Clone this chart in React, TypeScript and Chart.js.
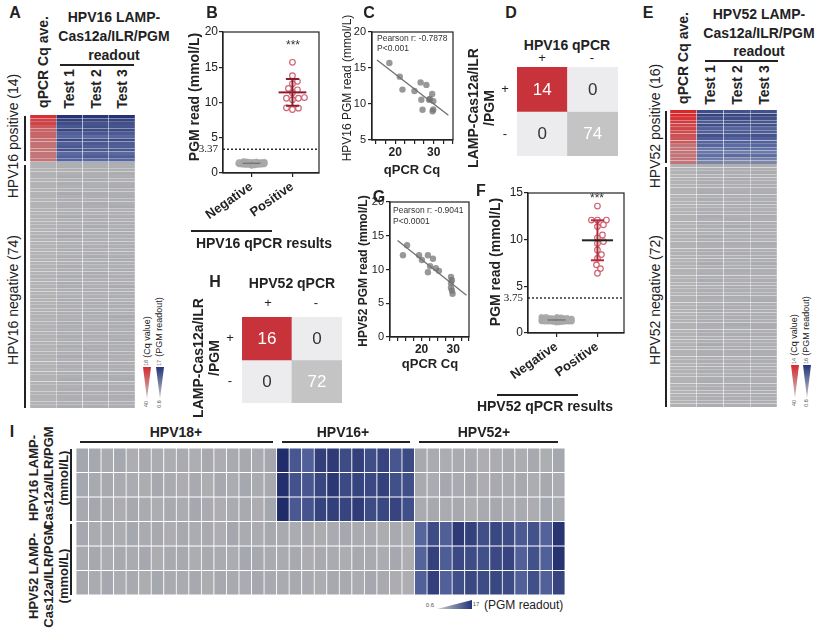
import React, { useEffect, useRef } from "react";
import { Chart, registerables } from "chart.js";

Chart.register(...registerables);

const FONT = '"Liberation Sans", Arial, Helvetica, sans-serif';
const SERIF = '"Liberation Serif", "DejaVu Serif", serif';
Chart.defaults.font.family = FONT;
Chart.defaults.color = "#222";

// ================= DATA =================
const heatmapColumns = ["qPCR Cq ave.", "Test 1", "Test 2", "Test 3"];
const cqUndetermined = 40;

// HPV16 positives (sorted by Cq)
const hpv16PosCq = [18.5, 21.2, 21.9, 25.0, 26.6, 26.8, 27.1, 28.1, 28.8, 29.0, 29.6, 29.7, 29.9, 29.9];
const hpv16PosRead = [15.7, 13.8, 12.0, 11.8, 13.0, 10.6, 9.2, 12.65, 10.6, 10.7, 11.4, 9.0, 10.4, 9.25];
const hpv16PosTest1 = [15.9, 14.2, 12.4, 11.2, 13.5, 10.1, 9.4, 12.9, 10.2, 11.1, 11.9, 8.8, 10.0, 9.5];
const hpv16PosTest2 = [15.4, 13.5, 11.6, 12.3, 12.7, 11.0, 8.9, 12.3, 10.9, 10.4, 11.0, 9.3, 10.7, 9.0];
const hpv16PosTest3 = [15.8, 13.7, 12.0, 11.9, 12.8, 10.7, 9.3, 12.75, 10.7, 10.6, 11.3, 8.9, 10.5, 9.25];
// HPV16 negatives (74)
const hpv16NegTest1 = [
  1.2, 1.5, 1.1, 0.9, 1.8, 1.3, 1.6, 1.0, 1.4, 2.0,
  1.2, 1.7, 1.1, 1.3, 0.9, 1.5, 1.9, 1.2, 1.4, 1.0,
  1.6, 1.3, 2.1, 1.1, 1.4, 1.2, 1.8, 0.9, 1.5, 1.3,
  1.0, 1.7, 1.4, 1.2, 1.6, 1.1, 1.9, 1.3, 1.5, 1.0,
  1.2, 1.8, 1.4, 1.1, 1.6, 1.3, 0.9, 1.5, 2.0, 1.2,
  1.4, 1.1, 1.7, 1.3, 1.0, 1.6, 1.2, 1.5, 1.8, 1.1,
  1.4, 1.3, 0.9, 1.6, 1.2, 1.9, 1.5, 1.0, 1.3, 1.7,
  1.1, 1.4, 1.2, 1.6,
];
const hpv16NegTest2 = [
  1.4, 1.2, 1.6, 1.1, 1.3, 1.9, 1.0, 1.5, 1.2, 1.7,
  1.3, 1.1, 1.8, 1.4, 1.2, 1.0, 1.6, 1.3, 1.5, 2.0,
  1.1, 1.4, 1.2, 1.7, 0.9, 1.5, 1.3, 1.1, 1.8, 1.2,
  1.6, 1.0, 1.4, 1.9, 1.3, 1.5, 1.1, 1.2, 1.7, 1.4,
  1.0, 1.3, 1.6, 1.2, 1.5, 1.8, 1.1, 1.4, 1.3, 0.9,
  1.7, 1.2, 1.5, 1.0, 1.4, 1.3, 1.9, 1.1, 1.6, 1.2,
  1.3, 1.5, 1.1, 1.8, 1.4, 1.0, 1.2, 1.6, 1.5, 1.3,
  1.2, 1.7, 1.0, 1.4,
];
const hpv16NegTest3 = [
  1.3, 1.1, 1.4, 1.7, 1.2, 1.0, 1.5, 1.8, 1.3, 1.1,
  1.6, 1.4, 1.2, 1.9, 1.0, 1.3, 1.5, 1.1, 1.7, 1.2,
  1.4, 1.8, 1.0, 1.3, 1.6, 1.1, 1.2, 1.5, 1.4, 2.0,
  1.2, 1.3, 1.7, 1.0, 1.5, 1.4, 1.1, 1.8, 1.2, 1.6,
  1.3, 1.0, 1.4, 1.5, 1.2, 1.1, 1.9, 1.3, 1.6, 1.4,
  1.2, 1.5, 1.0, 1.8, 1.3, 1.1, 1.4, 1.7, 1.2, 1.5,
  1.6, 1.1, 1.3, 1.2, 1.4, 1.8, 1.0, 1.5, 1.1, 1.3,
  1.7, 1.2, 1.4, 1.1,
];

// HPV52 positives (sorted by Cq)
const hpv52PosCq = [14.1, 15.4, 19.2, 20.1, 22.0, 22.0, 22.7, 23.6, 24.5, 25.5, 29.3, 29.3, 29.3, 29.6, 29.6, 29.8];
const hpv52PosRead = [12.1, 13.6, 12.1, 11.4, 12.1, 9.6, 10.5, 11.6, 10.2, 9.8, 8.9, 8.0, 7.3, 8.4, 6.9, 6.4];
const hpv52PosTest1 = [12.5, 13.9, 11.8, 11.0, 12.4, 9.9, 10.2, 11.9, 10.5, 9.5, 9.2, 7.7, 7.6, 8.1, 7.2, 6.6];
const hpv52PosTest2 = [11.8, 13.2, 12.4, 11.7, 11.9, 9.3, 10.8, 11.2, 9.9, 10.1, 8.6, 8.3, 7.0, 8.7, 6.6, 6.2];
const hpv52PosTest3 = [12.0, 13.7, 12.1, 11.5, 12.0, 9.6, 10.5, 11.7, 10.2, 9.8, 8.9, 8.0, 7.3, 8.4, 6.9, 6.4];
// HPV52 negatives (72)
const hpv52NegTest1 = [
  1.5, 1.2, 1.8, 1.0, 1.4, 1.6, 1.1, 1.3, 2.0, 1.2,
  1.7, 1.4, 0.9, 1.5, 1.3, 1.8, 1.1, 1.6, 1.2, 1.4,
  1.0, 1.9, 1.3, 1.5, 1.2, 1.7, 1.4, 1.1, 1.6, 2.2,
  1.3, 1.0, 1.5, 1.2, 1.8, 1.4, 1.1, 1.7, 1.3, 1.6,
  0.8, 1.5, 1.2, 1.9, 1.4, 1.0, 1.6, 1.3, 1.1, 1.8,
  1.5, 1.2, 1.4, 2.1, 1.0, 1.3, 1.7, 1.2, 1.5, 1.1,
  1.6, 1.4, 0.9, 1.3, 1.8, 1.2, 1.5, 1.0, 1.7, 1.4,
  1.3, 1.6,
];
const hpv52NegTest2 = [
  1.3, 1.6, 1.1, 1.4, 1.9, 1.2, 1.5, 1.0, 1.7, 1.3,
  1.2, 1.5, 1.8, 1.1, 1.4, 1.0, 1.6, 1.3, 2.0, 1.2,
  1.5, 1.1, 1.4, 1.7, 0.9, 1.3, 1.6, 1.2, 1.8, 1.0,
  1.4, 1.7, 1.2, 1.5, 1.1, 1.3, 1.9, 1.4, 1.0, 1.6,
  1.2, 1.8, 1.5, 1.1, 1.3, 1.7, 1.4, 2.1, 1.2, 1.0,
  1.6, 1.3, 1.5, 1.1, 1.8, 1.4, 1.2, 0.8, 1.5, 1.7,
  1.3, 1.0, 1.6, 1.4, 1.2, 1.9, 1.1, 1.5, 1.3, 1.6,
  1.4, 1.2,
];
const hpv52NegTest3 = [
  1.4, 1.3, 1.7, 1.2, 1.0, 1.5, 1.8, 1.1, 1.4, 1.6,
  1.2, 1.9, 1.3, 1.0, 1.5, 1.4, 1.2, 1.7, 1.1, 1.6,
  1.3, 1.5, 1.0, 1.8, 1.4, 1.2, 1.1, 1.6, 1.3, 1.9,
  1.5, 1.2, 1.4, 1.0, 1.7, 1.3, 1.6, 1.1, 1.5, 1.2,
  1.8, 1.4, 1.0, 1.3, 1.6, 1.2, 1.5, 1.7, 2.0, 1.1,
  1.3, 1.4, 1.6, 1.2, 0.9, 1.5, 1.1, 1.8, 1.3, 1.4,
  1.2, 1.7, 1.5, 1.0, 1.4, 1.3, 1.6, 1.2, 1.8, 1.1,
  1.5, 1.3,
];

// Confusion matrices: rows = LAMP-Cas12a/ILR/PGM (+,-), cols = qPCR (+,-)
const matrixLabels = ["+", "-"];
const hpv16Matrix = [[14, 0], [0, 74]];
const hpv52Matrix = [[16, 0], [0, 72]];

// Strip plots
const stripGroups = ["Negative", "Positive"];
const hpv16Cutoff = 3.37;
const hpv16StripYTicks = [0, 3.37, 5, 10, 15, 20];
const hpv52Cutoff = 3.75;
const hpv52StripYTicks = [0, 3.75, 5, 10, 15];

// Correlation plots
const hpv16CorrXTicks = [15, 17.5, 20, 22.5, 25, 27.5, 30, 32.5, 35];
const hpv52CorrXTicks = [10, 12.5, 15, 17.5, 20, 22.5, 25, 27.5, 30, 32.5, 35];
const corrXLabelled = [20, 30];
const hpv16CorrYTicks = [5, 10, 15, 20];
const hpv52CorrYTicks = [0, 5, 10, 15, 20];

// Panel I cross-reactivity (columns: 16 HPV18+, 11 HPV16+, 12 HPV52+)
const crossGroups = ["HPV18+", "HPV16+", "HPV52+"];
const crossGroupSizes = [16, 11, 12];
const crossHpv16Test1 = [
  2.8, 2.5, 1.9, 2.6, 1.5, 2.2, 1.8, 1.6, 2.0, 1.3, 2.4, 1.7, 2.1, 2.3, 1.9, 2.7,
  16.6, 11.2, 10.0, 14.3, 14.8, 12.6, 14.2, 12.4, 13.6, 11.4, 12.8,
  2.4, 2.0, 1.7, 1.9, 2.2, 1.5, 1.8, 2.1, 1.6, 2.3, 1.4, 2.6,
];
const crossHpv16Test2 = [
  2.6, 2.2, 2.4, 2.0, 1.8, 1.6, 2.5, 1.9, 1.7, 2.1, 1.5, 2.3, 1.8, 2.6, 2.0, 2.4,
  16.2, 11.8, 11.3, 13.4, 15.2, 13.0, 13.8, 13.1, 14.1, 12.1, 12.3,
  2.2, 1.8, 2.5, 2.0, 2.7, 1.7, 2.1, 1.9, 2.4, 1.6, 2.3, 1.8,
];
const crossHpv16Test3 = [
  2.4, 2.7, 2.1, 1.7, 2.3, 1.9, 1.6, 2.2, 1.8, 2.5, 2.0, 1.5, 1.9, 2.2, 1.7, 2.8,
  16.8, 11.0, 11.6, 13.8, 14.3, 13.6, 14.7, 12.6, 13.2, 13.6, 12.2,
  2.0, 2.3, 1.9, 2.4, 1.6, 2.2, 2.5, 1.8, 2.0, 1.7, 2.6, 1.9,
];
const crossHpv52Test1 = [
  2.5, 1.9, 2.2, 1.6, 2.6, 2.0, 2.3, 1.7, 2.4, 1.8, 2.1, 1.5, 2.7, 2.0, 1.8, 2.3,
  2.2, 1.8, 2.4, 1.7, 2.0, 2.5, 1.9, 2.2, 1.6, 2.1, 1.4,
  9.4, 12.6, 10.2, 15.0, 14.1, 12.2, 13.2, 12.6, 10.8, 11.9, 9.8, 15.6,
];
const crossHpv52Test2 = [
  2.2, 2.6, 1.8, 2.3, 1.9, 2.5, 1.7, 2.1, 2.4, 1.6, 2.2, 2.0, 1.8, 2.6, 2.3, 1.9,
  2.0, 2.4, 1.7, 2.2, 1.9, 1.6, 2.3, 2.1, 1.8, 2.5, 1.5,
  9.6, 14.0, 10.4, 13.1, 12.6, 12.1, 13.1, 13.6, 10.0, 12.0, 10.1, 15.8,
];
const crossHpv52Test3 = [
  2.4, 2.0, 2.5, 1.8, 2.2, 1.6, 2.6, 1.9, 2.0, 2.3, 1.7, 2.4, 2.1, 1.8, 2.5, 2.2,
  1.9, 2.3, 2.0, 1.6, 2.4, 2.1, 1.8, 2.5, 2.2, 1.7, 1.5,
  10.0, 14.2, 10.1, 12.2, 13.2, 12.6, 13.2, 12.6, 10.1, 12.1, 10.0, 13.6,
];

// ================= STYLE / HELPERS =================
const GREY = [178, 178, 180];
const PGM_LOWMID = [152, 155, 168];
const PGM_MID = [96, 112, 166];
const PGM_HIGH = [30, 42, 104];
const CQ_RED = [214, 40, 44];
const clamp = (t: number) => Math.max(0, Math.min(1, t));
function mixRGB(a: number[], b: number[], t: number) {
  const c = a.map((v, i) => Math.round(v + (b[i] - v) * t));
  return `rgb(${c[0]},${c[1]},${c[2]})`;
}
function pgmColor(v: number) {
  if (v <= 5) return mixRGB(GREY, PGM_LOWMID, clamp((v - 0.6) / (5 - 0.6)));
  if (v <= 8) return mixRGB(PGM_LOWMID, PGM_MID, clamp((v - 5) / 3));
  return mixRGB(PGM_MID, PGM_HIGH, clamp((v - 8) / (17 - 8)));
}
function cqColor(cq: number) {
  return mixRGB(GREY, CQ_RED, clamp((40 - cq) / (40 - 17)));
}
function mean(a: number[]) {
  return a.reduce((s, v) => s + v, 0) / a.length;
}
function sd(a: number[]) {
  const m = mean(a);
  return Math.sqrt(a.reduce((s, v) => s + (v - m) * (v - m), 0) / (a.length - 1));
}
function linreg(xs: number[], ys: number[]) {
  const mx = mean(xs), my = mean(ys);
  let sxy = 0, sxx = 0;
  xs.forEach((x, i) => { sxy += (x - mx) * (ys[i] - my); sxx += (x - mx) * (x - mx); });
  const slope = sxy / sxx;
  return { slope, icpt: my - slope * mx };
}
// bounded beeswarm placement (layout only): spreads points horizontally inside +/- halfW pixels
function swarm(values: number[], center: number, pxX: number, pxY: number, minDist: number, step: number, halfW: number) {
  const placed: { px: number; py: number }[] = [];
  const out: { x: number; y: number }[] = new Array(values.length);
  const order = values.map((_, i) => i).sort((a, b) => values[a] - values[b]);
  const nSteps = Math.floor(halfW / step);
  for (const i of order) {
    const py = values[i] * pxY;
    let best = 0, bestD = -1, chosen: number | null = null;
    for (let k = 0; k <= nSteps * 2; k++) {
      const cand = k === 0 ? 0 : (k % 2 ? 1 : -1) * Math.ceil(k / 2) * step;
      let d = Infinity;
      for (const p of placed) d = Math.min(d, Math.hypot(p.px - cand, p.py - py));
      if (d >= minDist) { chosen = cand; break; }
      if (d > bestD) { bestD = d; best = cand; }
    }
    const px = chosen === null ? best : chosen;
    placed.push({ px, py });
    out[i] = { x: center + px / pxX, y: values[i] };
  }
  return out;
}

const boxPlugin = {
  id: "boxBorder",
  afterDraw(chart: any) {
    const { ctx, chartArea } = chart;
    ctx.save();
    ctx.strokeStyle = "#222";
    ctx.lineWidth = 1.2;
    ctx.strokeRect(chartArea.left, chartArea.top, chartArea.right - chartArea.left, chartArea.bottom - chartArea.top);
    ctx.restore();
  },
};

const baseOpts = {
  animation: false,
  responsive: false,
  events: [],
  plugins: { legend: { display: false }, tooltip: { enabled: false } },
};

function heatmapConfig(labels: string[], rows: string[][], bwX: number, bwY: number, bc: string) {
  return {
    type: "bar",
    data: {
      labels,
      datasets: rows.map((r) => ({
        data: r.map(() => 1),
        backgroundColor: r,
        borderColor: bc,
        borderWidth: { left: bwX, right: bwX, top: bwY, bottom: bwY },
        borderSkipped: false,
        barPercentage: 1,
        categoryPercentage: 1,
        stack: "s",
      })),
    },
    options: {
      ...baseOpts,
      layout: { padding: 0 },
      scales: {
        x: { stacked: true, display: false },
        y: { stacked: true, display: false, reverse: true, min: 0, max: rows.length },
      },
    },
  };
}

function matrixConfig(counts: number[][]) {
  const colors = [["#c8323a", "#ececef"], ["#ececef", "#c4c4c4"]];
  const txt = [["#ffffff", "#333333"], ["#333333", "#ffffff"]];
  return {
    type: "bar",
    data: {
      labels: matrixLabels,
      datasets: counts.map((row, ri) => ({
        data: row.map(() => 1),
        backgroundColor: colors[ri],
        borderWidth: 0,
        barPercentage: 1,
        categoryPercentage: 1,
        stack: "m",
      })),
    },
    options: {
      ...baseOpts,
      layout: { padding: 0 },
      scales: {
        x: { stacked: true, display: false },
        y: { stacked: true, display: false, reverse: true, min: 0, max: 2 },
      },
    },
    plugins: [
      {
        id: "counts",
        afterDatasetsDraw(chart: any) {
          const ctx = chart.ctx;
          ctx.save();
          ctx.font = `17px ${FONT}`;
          ctx.textAlign = "center";
          ctx.textBaseline = "middle";
          chart.data.datasets.forEach((_: any, ri: number) => {
            chart.getDatasetMeta(ri).data.forEach((bar: any, ci: number) => {
              ctx.fillStyle = txt[ri][ci];
              ctx.fillText(String(counts[ri][ci]), bar.x, (bar.y + bar.base) / 2 + 1);
            });
          });
          ctx.restore();
        },
      },
    ],
  };
}

const axisGrid = { display: true, drawOnChartArea: false, drawTicks: true, tickLength: 4, color: "#222", lineWidth: 1.2 };
const axisBorder = { display: true, color: "#222", width: 1.2 };

function seg(points: { x: number; y: number }[], color: string, width: number, dash: number[] = []) {
  return { data: points, showLine: true, borderColor: color, borderWidth: width, pointRadius: 0, borderDash: dash, fill: false, borderCapStyle: "butt" };
}

const STRIP_XMIN = 0.3;
const STRIP_XMAX = 2.65;
function stripConfig(p: any) {
  const pxX = p.plotW / (STRIP_XMAX - STRIP_XMIN);
  const pxY = p.plotH / p.yMax;
  const negPts = swarm(p.neg, 1, pxX, pxY, 2.6, 0.5, p.negHalfW);
  const posPts = swarm(p.pos, 2, pxX, pxY, 5.4, 1, 14);
  const nm = mean(p.neg), ns = sd(p.neg), pm = mean(p.pos), ps = sd(p.pos);
  const cap = 0.16;
  return {
    type: "scatter",
    data: {
      datasets: [
        seg([{ x: 2 - p.mw, y: pm }, { x: 2 + p.mw, y: pm }], p.meanColor, 2),
        seg([{ x: 2, y: pm - ps }, { x: 2, y: pm + ps }], p.sdColor, 2),
        seg([{ x: 2 - cap, y: pm + ps }, { x: 2 + cap, y: pm + ps }], p.sdColor, 2),
        seg([{ x: 2 - cap, y: pm - ps }, { x: 2 + cap, y: pm - ps }], p.sdColor, 2),
        seg([{ x: 1 - 0.22, y: nm }, { x: 1 + 0.22, y: nm }], "#777", 1.5),
        seg([{ x: 1, y: nm - ns }, { x: 1, y: nm + ns }], "#888", 1.2),
        { data: posPts, pointRadius: 2.8, pointBackgroundColor: "rgba(255,255,255,0)", pointBorderColor: "#cf6270", pointBorderWidth: 1.2 },
        { data: negPts, pointRadius: 2.8, pointBackgroundColor: "#ababab", pointBorderColor: "#a3a3a3", pointBorderWidth: 0.5 },
        seg([{ x: STRIP_XMIN, y: p.thr }, { x: STRIP_XMAX, y: p.thr }], "#111", 1.3, [2, 2]),
      ],
    },
    options: {
      ...baseOpts,
      layout: { padding: p.pad },
      scales: {
        x: {
          type: "linear",
          min: STRIP_XMIN,
          max: STRIP_XMAX,
          afterBuildTicks: (s: any) => { s.ticks = [{ value: 1 }, { value: 2 }]; },
          afterFit: (s: any) => { s.height = p.xAxisH; },
          ticks: {
            autoSkip: false,
            minRotation: 35,
            maxRotation: 35,
            padding: 2,
            font: { size: 13, weight: "bold" },
            callback: (v: number) => (v === 1 ? stripGroups[0] : v === 2 ? stripGroups[1] : ""),
          },
          grid: axisGrid,
          border: axisBorder,
        },
        y: {
          min: 0,
          max: p.yMax,
          afterBuildTicks: (s: any) => { s.ticks = p.yTicks.map((v: number) => ({ value: v })); },
          afterFit: (s: any) => { s.width = p.yAxisW; },
          ticks: {
            autoSkip: false,
            padding: 1,
            font: (ctx: any) => (ctx.tick && ctx.tick.value === p.thr ? { size: 11, family: SERIF } : { size: 12, family: FONT }),
            callback: (v: number) => String(v),
          },
          grid: { ...axisGrid, color: (ctx: any) => (ctx.tick && ctx.tick.value === p.thr ? "rgba(0,0,0,0)" : "#222") },
          border: axisBorder,
        },
      },
    },
    plugins: [boxPlugin],
  };
}

function corrConfig(p: any) {
  const pts = p.xs.map((x: number, i: number) => ({ x, y: p.ys[i] }));
  const { slope, icpt } = linreg(p.xs, p.ys);
  return {
    type: "scatter",
    data: {
      datasets: [
        seg([{ x: p.l0, y: icpt + slope * p.l0 }, { x: p.l1, y: icpt + slope * p.l1 }], "#707070", 1.3),
        { data: pts, pointRadius: 3.2, pointBackgroundColor: "rgba(112,112,112,0.72)", pointBorderWidth: 0 },
      ],
    },
    options: {
      ...baseOpts,
      layout: { padding: p.pad },
      scales: {
        x: {
          type: "linear",
          min: p.xMin,
          max: p.xMax,
          afterBuildTicks: (s: any) => { s.ticks = p.xTicks.map((v: number) => ({ value: v })); },
          afterFit: (s: any) => { s.height = p.xAxisH; },
          ticks: {
            autoSkip: false,
            maxRotation: 0,
            padding: 1,
            font: { size: 12, weight: "bold" },
            callback: (v: number) => (corrXLabelled.includes(v) ? String(v) : ""),
          },
          grid: axisGrid,
          border: axisBorder,
        },
        y: {
          min: p.yMin,
          max: p.yMax,
          afterBuildTicks: (s: any) => { s.ticks = p.yTicks.map((v: number) => ({ value: v })); },
          afterFit: (s: any) => { s.width = p.yAxisW; },
          ticks: { autoSkip: false, padding: 2, font: { size: 11 }, callback: (v: number) => String(v) },
          grid: axisGrid,
          border: axisBorder,
        },
      },
    },
    plugins: [boxPlugin],
  };
}

// ================= BUILD TABLES =================
const hpv16Rows = [
  ...hpv16PosCq.map((cq, i) => [cqColor(cq), pgmColor(hpv16PosTest1[i]), pgmColor(hpv16PosTest2[i]), pgmColor(hpv16PosTest3[i])]),
  ...hpv16NegTest1.map((v, i) => [cqColor(cqUndetermined), pgmColor(v), pgmColor(hpv16NegTest2[i]), pgmColor(hpv16NegTest3[i])]),
];
const hpv52Rows = [
  ...hpv52PosCq.map((cq, i) => [cqColor(cq), pgmColor(hpv52PosTest1[i]), pgmColor(hpv52PosTest2[i]), pgmColor(hpv52PosTest3[i])]),
  ...hpv52NegTest1.map((v, i) => [cqColor(cqUndetermined), pgmColor(v), pgmColor(hpv52NegTest2[i]), pgmColor(hpv52NegTest3[i])]),
];
const hpv16NegRead = hpv16NegTest1.map((v, i) => (v + hpv16NegTest2[i] + hpv16NegTest3[i]) / 3);
const hpv52NegRead = hpv52NegTest1.map((v, i) => (v + hpv52NegTest2[i] + hpv52NegTest3[i]) / 3);
const crossLabels = crossGroups.flatMap((g, gi) => Array.from({ length: crossGroupSizes[gi] }, (_, k) => `${g} #${k + 1}`));
const crossRows = [crossHpv16Test1, crossHpv16Test2, crossHpv16Test3, crossHpv52Test1, crossHpv52Test2, crossHpv52Test3].map((r) => r.map(pgmColor));

// ================= COMPONENTS =================
function ChartCanvas({ x, y, w, h, make }: any) {
  const ref = useRef<HTMLCanvasElement>(null);
  useEffect(() => {
    const chart = new Chart(ref.current as HTMLCanvasElement, make());
    return () => chart.destroy();
  }, []);
  return <canvas ref={ref} width={w} height={h} style={{ position: "absolute", left: x, top: y, width: w, height: h }} />;
}

function Txt({ x, y, s = 14, b = false, r = false, a = "c", c = "#222", lh, ff, children }: any) {
  const style: any = {
    position: "absolute",
    left: x,
    top: y,
    fontSize: s,
    fontWeight: b ? 700 : 400,
    color: c,
    whiteSpace: "nowrap",
    lineHeight: lh ? `${lh}px` : 1.05,
    fontFamily: ff || FONT,
    textAlign: "center",
    transform: a === "l" ? "translate(0,-50%)" : `translate(-50%,-50%)${r ? " rotate(-90deg)" : ""}`,
  };
  return <div style={style}>{children}</div>;
}

function Line({ x, y, w, h, c = "#222" }: any) {
  return <div style={{ position: "absolute", left: x, top: y, width: w, height: h, background: c }} />;
}

function Tri({ x, y, w, h, top, bottom, horiz }: any) {
  return (
    <div
      style={{
        position: "absolute",
        left: x,
        top: y,
        width: w,
        height: h,
        clipPath: horiz ? "polygon(0 100%, 100% 0, 100% 100%)" : "polygon(0 0, 100% 0, 50% 100%)",
        background: horiz ? `linear-gradient(to right, ${bottom}, ${top})` : `linear-gradient(to bottom, ${top}, ${bottom})`,
      }}
    />
  );
}

export default function App() {
  return (
    <div style={{ position: "absolute", left: 0, top: 0, width: 823, height: 632, background: "#fff", overflow: "hidden", fontFamily: FONT }}>
      {/* ---------- charts ---------- */}
      <ChartCanvas x={30} y={115} w={105} h={293} make={() => heatmapConfig(heatmapColumns, hpv16Rows, 0.5, 0.35, "rgba(255,255,255,0.55)")} />
      <ChartCanvas x={670} y={110} w={107} h={297} make={() => heatmapConfig(heatmapColumns, hpv52Rows, 0.5, 0.35, "rgba(255,255,255,0.55)")} />
      <ChartCanvas x={76} y={448} w={489} h={147} make={() => heatmapConfig(crossLabels, crossRows, 0.75, 0.75, "#ffffff")} />
      <ChartCanvas x={517} y={67} w={101} h={89} make={() => matrixConfig(hpv16Matrix)} />
      <ChartCanvas x={242} y={317} w={100} h={86} make={() => matrixConfig(hpv52Matrix)} />
      <ChartCanvas
        x={180} y={20} w={145} h={215}
        make={() =>
          stripConfig({
            neg: hpv16NegRead, pos: hpv16PosRead, thr: hpv16Cutoff, yMax: 20, yTicks: hpv16StripYTicks,
            plotW: 96, plotH: 141, pad: { left: 3, top: 12, right: 6, bottom: 12 }, yAxisW: 40, xAxisH: 50,
            meanColor: "#8b1c2c", sdColor: "#8b1c2c", mw: 0.34, negHalfW: 13,
          })
        }
      />
      <ChartCanvas
        x={490} y={181} w={140} h={214}
        make={() =>
          stripConfig({
            neg: hpv52NegRead, pos: hpv52PosRead, thr: hpv52Cutoff, yMax: 15, yTicks: hpv52StripYTicks,
            plotW: 96, plotH: 140, pad: { left: 2, top: 12, right: 6, bottom: 12 }, yAxisW: 36, xAxisH: 50,
            meanColor: "#222", sdColor: "#b32a3a", mw: 0.38, negHalfW: 15,
          })
        }
      />
      <ChartCanvas
        x={346} y={20} w={115} h={144}
        make={() =>
          corrConfig({
            xs: hpv16PosCq, ys: hpv16PosRead, xMin: 14, xMax: 35, yMin: 5, yMax: 20,
            xTicks: hpv16CorrXTicks, yTicks: hpv16CorrYTicks, l0: 15.3, l1: 33.8,
            pad: { left: 2, top: 12, right: 8, bottom: 4 }, yAxisW: 24, xAxisH: 20,
          })
        }
      />
      <ChartCanvas
        x={364} y={190} w={113} h={171}
        make={() =>
          corrConfig({
            xs: hpv52PosCq, ys: hpv52PosRead, xMin: 10, xMax: 35, yMin: 0, yMax: 20,
            xTicks: hpv52CorrXTicks, yTicks: hpv52CorrYTicks, l0: 12.4, l1: 34.2,
            pad: { left: 2, top: 12, right: 8, bottom: 4 }, yAxisW: 24, xAxisH: 20,
          })
        }
      />

      {/* ---------- panel A ---------- */}
      <Txt x={15} y={13} s={16} b>A</Txt>
      <Txt x={114} y={36} s={14} b lh={19}>HPV16 LAMP-<br />Cas12a/ILR/PGM<br />readout</Txt>
      <Line x={60} y={64} w={74} h={1.6} />
      <Txt x={43} y={62} s={14} b r>qPCR Cq ave.</Txt>
      <Txt x={69} y={89} s={14} b r>Test 1</Txt>
      <Txt x={96} y={89} s={14} b r>Test 2</Txt>
      <Txt x={122} y={89} s={14} b r>Test 3</Txt>
      <Line x={24} y={116} w={1.6} h={45} />
      <Line x={24} y={165} w={1.6} h={243} />
      <Txt x={13} y={136} s={14} r>HPV16 positive (14)</Txt>
      <Txt x={13} y={300} s={14} r>HPV16 negative (74)</Txt>
      <Txt x={148} y={337} s={9} r>(Cq value)</Txt>
      <Txt x={160} y={327} s={9} r>(PGM readout)</Txt>
      <Txt x={147} y={363} s={5.5} r c="#555">18</Txt>
      <Txt x={160} y={363} s={5.5} r c="#555">17</Txt>
      <Tri x={143} y={367} w={8} h={32} top="#d42a2e" bottom="#c8c8c8" />
      <Tri x={156} y={367} w={8} h={32} top="#24357a" bottom="#c8c8c8" />
      <Txt x={147} y={404} s={5.5} r c="#555">40</Txt>
      <Txt x={160} y={404} s={5.5} r c="#555">0.6</Txt>

      {/* ---------- panel B ---------- */}
      <Txt x={212} y={13} s={16} b>B</Txt>
      <Txt x={194} y={97} s={14} b r>PGM read (mmol/L)</Txt>
      <Txt x={293} y={45} s={12} c="#333">***</Txt>
      <Line x={191} y={230} w={81} h={1.6} />
      <Txt x={264} y={243} s={14} b>HPV16 qPCR results</Txt>

      {/* ---------- panel C ---------- */}
      <Txt x={369} y={13} s={16} b>C</Txt>
      <Txt x={347} y={88} s={12} r>HPV16 PGM read (mmol/L)</Txt>
      <Txt x={412} y={170} s={13} b>qPCR Cq</Txt>
      <Txt x={377} y={38} s={8.5} a="l" c="#333">Pearson r: -0.7878</Txt>
      <Txt x={377} y={48} s={8.5} a="l" c="#333">P&lt;0.001</Txt>

      {/* ---------- panel D ---------- */}
      <Txt x={511} y={13} s={16} b>D</Txt>
      <Txt x={567} y={45} s={14} b>HPV16 qPCR</Txt>
      <Txt x={542} y={58} s={13}>+</Txt>
      <Txt x={592} y={58} s={13}>-</Txt>
      <Txt x={505} y={89} s={13}>+</Txt>
      <Txt x={505} y={134} s={13}>-</Txt>
      <Txt x={481} y={108} s={14} b r lh={16}>LAMP-Cas12a/ILR<br />/PGM</Txt>

      {/* ---------- panel E ---------- */}
      <Txt x={648} y={13} s={16} b>E</Txt>
      <Txt x={759} y={33} s={14} b lh={18.5}>HPV52 LAMP-<br />Cas12a/ILR/PGM<br />readout</Txt>
      <Line x={705} y={60} w={73} h={1.6} />
      <Txt x={683} y={58} s={14} b r>qPCR Cq ave.</Txt>
      <Txt x={710} y={85} s={14} b r>Test 1</Txt>
      <Txt x={737} y={85} s={14} b r>Test 2</Txt>
      <Txt x={764} y={85} s={14} b r>Test 3</Txt>
      <Line x={665} y={111} w={1.6} h={52} />
      <Line x={665} y={167} w={1.6} h={240} />
      <Txt x={655} y={126} s={14} r>HPV52 positive (16)</Txt>
      <Txt x={655} y={300} s={14} r>HPV52 negative (72)</Txt>
      <Txt x={795} y={335} s={9} r>(Cq value)</Txt>
      <Txt x={807} y={326} s={9} r>(PGM readout)</Txt>
      <Txt x={795} y={361} s={5.5} r c="#555">14</Txt>
      <Txt x={807} y={361} s={5.5} r c="#555">16</Txt>
      <Tri x={791} y={365} w={8} h={33} top="#d42a2e" bottom="#c8c8c8" />
      <Tri x={803} y={365} w={8} h={33} top="#24357a" bottom="#c8c8c8" />
      <Txt x={795} y={403} s={5.5} r c="#555">40</Txt>
      <Txt x={807} y={403} s={5.5} r c="#555">0.6</Txt>

      {/* ---------- panel G ---------- */}
      <Txt x={379} y={197} s={16} b>G</Txt>
      <Txt x={363} y={271} s={12} b r>HPV52 PGM read (mmol/L)</Txt>
      <Txt x={430} y={364} s={13} b>qPCR Cq</Txt>
      <Txt x={393} y={210} s={8.5} a="l" c="#333">Pearson r: -0.9041</Txt>
      <Txt x={393} y={221} s={8.5} a="l" c="#333">P&lt;0.0001</Txt>

      {/* ---------- panel F ---------- */}
      <Txt x={481} y={191} s={16} b>F</Txt>
      <Txt x={495} y={262} s={14} b r>PGM read (mmol/L)</Txt>
      <Txt x={597} y={198} s={12} c="#333">***</Txt>
      <Line x={497} y={394} w={81} h={1.6} />
      <Txt x={545} y={406} s={14} b>HPV52 qPCR results</Txt>

      {/* ---------- panel H ---------- */}
      <Txt x={215} y={282} s={16} b>H</Txt>
      <Txt x={292} y={283} s={14} b>HPV52 qPCR</Txt>
      <Txt x={268} y={303} s={13}>+</Txt>
      <Txt x={316} y={303} s={13}>-</Txt>
      <Txt x={230} y={338} s={13}>+</Txt>
      <Txt x={230} y={381} s={13}>-</Txt>
      <Txt x={206} y={358} s={14} b r lh={16}>LAMP-Cas12a/ILR<br />/PGM</Txt>

      {/* ---------- panel I ---------- */}
      <Txt x={12} y={432} s={16} b>I</Txt>
      <Txt x={176} y={432} s={14} b>{crossGroups[0]}</Txt>
      <Txt x={343} y={432} s={14} b>{crossGroups[1]}</Txt>
      <Txt x={484} y={432} s={14} b>{crossGroups[2]}</Txt>
      <Line x={80} y={441} w={193} h={1.6} />
      <Line x={282} y={441} w={128} h={1.6} />
      <Line x={419} y={441} w={139} h={1.6} />
      <Line x={70} y={449} w={1.6} h={72} />
      <Line x={70} y={524} w={1.6} h={71} />
      <Txt x={48} y={478} s={13} b r lh={15}>HPV16 LAMP-<br />Cas12a/ILR/PGM<br />(mmol/L)</Txt>
      <Txt x={48} y={576} s={13} b r lh={15}>HPV52 LAMP-<br />Cas12a/ILR/PGM<br />(mmol/L)</Txt>
      <Txt x={430} y={605} s={6} c="#555">0.6</Txt>
      <Tri x={437} y={600} w={35} h={9} horiz top="#24357a" bottom="#d0d0d0" />
      <Txt x={476} y={604} s={6} c="#555">17</Txt>
      <Txt x={484} y={605} s={12} a="l">(PGM readout)</Txt>
    </div>
  );
}
